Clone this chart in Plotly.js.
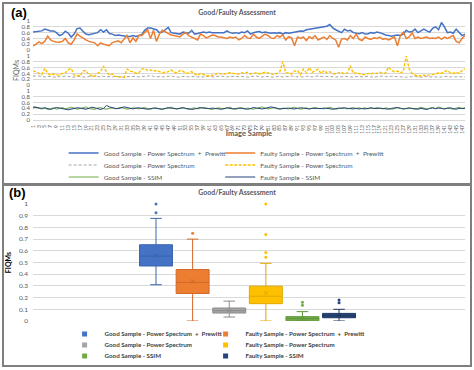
<!DOCTYPE html>
<html><head><meta charset="utf-8">
<script src="https://cdn.plot.ly/plotly-3.0.1.min.js"></script>
<style>
html,body{margin:0;padding:0;background:#fff;width:474px;height:370px;overflow:hidden;}
.panel{position:absolute;left:2px;width:470px;box-sizing:border-box;border:2px solid #7F7F7F;background:#fff;}
#pa{top:2px;height:183px;}
#pb{top:184px;height:183px;}
#ca,#cb{width:466px;height:179px;}
</style></head><body>
<div class="panel" id="pa"><div id="ca"></div></div>
<div class="panel" id="pb"><div id="cb"></div></div>
<script>
// ---------- Panel (a): per-sample FIQM values ----------
const goodPSPrewitt = [
0.62,0.63,0.64,0.66,0.72,0.68,0.66,0.66,0.60,0.50,
0.54,0.65,0.58,0.45,0.55,0.74,0.76,0.65,0.55,0.53,
0.55,0.56,0.60,0.70,0.62,0.70,0.57,0.55,0.50,0.52,
0.50,0.47,0.47,0.47,0.50,0.47,0.50,0.53,0.68,0.76,
0.76,0.72,0.70,0.60,0.62,0.70,0.78,0.60,0.58,0.55,
0.55,0.62,0.60,0.58,0.68,0.55,0.57,0.60,0.62,0.60,
0.62,0.60,0.60,0.60,0.62,0.60,0.66,0.60,0.58,0.60,
0.57,0.62,0.60,0.66,0.55,0.60,0.62,0.64,0.60,0.62,
0.60,0.58,0.60,0.58,0.60,0.55,0.60,0.58,0.60,0.62,
0.64,0.66,0.65,0.70,0.72,0.74,0.76,0.78,0.78,0.80,
0.82,0.88,0.76,0.70,0.65,0.60,0.72,0.66,0.68,0.60,
0.58,0.56,0.60,0.55,0.56,0.60,0.58,0.62,0.60,0.55,
0.52,0.50,0.48,0.50,0.52,0.50,0.55,0.68,0.62,0.64,
0.72,0.60,0.65,0.72,0.66,0.62,0.75,0.80,0.70,0.95,
0.80,0.60,0.62,0.58,0.72,0.62,0.50,0.55];
const faultyPSPrewitt = [
0.15,0.20,0.28,0.22,0.30,0.48,0.35,0.30,0.28,0.27,
0.30,0.40,0.25,0.20,0.35,0.56,0.48,0.40,0.35,0.30,
0.28,0.25,0.15,0.25,0.20,0.17,0.15,0.26,0.30,0.32,
0.25,0.38,0.50,0.25,0.42,0.30,0.50,0.50,0.60,0.70,
0.40,0.68,0.30,0.55,0.68,0.62,0.55,0.52,0.50,0.48,
0.45,0.55,0.60,0.50,0.45,0.42,0.35,0.55,0.50,0.42,
0.48,0.52,0.50,0.45,0.45,0.42,0.40,0.45,0.42,0.45,
0.35,0.40,0.50,0.42,0.40,0.55,0.45,0.40,0.47,0.55,
0.50,0.42,0.40,0.50,0.45,0.52,0.35,0.46,0.42,0.15,
0.45,0.40,0.45,0.33,0.46,0.40,0.50,0.35,0.40,0.45,
0.37,0.50,0.40,0.35,0.10,0.38,0.40,0.35,0.50,0.40,
0.55,0.37,0.33,0.45,0.40,0.37,0.42,0.40,0.45,0.37,
0.40,0.35,0.40,0.45,0.15,0.50,0.62,0.40,0.45,0.60,
0.40,0.45,0.40,0.42,0.45,0.40,0.42,0.40,0.45,0.37,
0.45,0.40,0.45,0.50,0.30,0.25,0.40,0.50];
const goodPS = [
0.30,0.32,0.31,0.29,0.28,0.30,0.29,0.28,0.27,0.30,
0.29,0.31,0.30,0.28,0.27,0.29,0.30,0.28,0.27,0.29,
0.30,0.31,0.29,0.28,0.30,0.29,0.27,0.28,0.30,0.29,
0.28,0.27,0.29,0.30,0.31,0.30,0.28,0.29,0.30,0.31,
0.32,0.30,0.29,0.30,0.28,0.29,0.30,0.31,0.29,0.28,
0.27,0.29,0.30,0.28,0.29,0.30,0.28,0.27,0.28,0.29,
0.30,0.28,0.29,0.30,0.31,0.29,0.28,0.30,0.29,0.28,
0.29,0.30,0.28,0.27,0.29,0.30,0.31,0.29,0.28,0.30,
0.29,0.28,0.27,0.29,0.30,0.28,0.29,0.30,0.31,0.29,
0.28,0.27,0.28,0.30,0.29,0.28,0.30,0.31,0.29,0.28,
0.29,0.30,0.28,0.27,0.29,0.28,0.30,0.29,0.28,0.27,
0.29,0.30,0.28,0.29,0.30,0.28,0.27,0.29,0.30,0.31,
0.29,0.28,0.30,0.29,0.28,0.27,0.26,0.27,0.28,0.29,
0.30,0.28,0.27,0.29,0.30,0.28,0.29,0.28,0.27,0.28,
0.29,0.30,0.28,0.27,0.28,0.29,0.28,0.27];
const faultyPS = [
0.49,0.45,0.42,0.36,0.57,0.40,0.34,0.38,0.35,0.34,
0.40,0.42,0.52,0.57,0.34,0.32,0.31,0.48,0.50,0.35,
0.32,0.30,0.40,0.46,0.65,0.45,0.34,0.38,0.30,0.28,
0.27,0.26,0.55,0.48,0.46,0.40,0.42,0.55,0.57,0.50,
0.52,0.48,0.50,0.46,0.42,0.44,0.46,0.52,0.44,0.42,
0.50,0.48,0.40,0.42,0.46,0.38,0.34,0.40,0.36,0.32,
0.31,0.34,0.36,0.42,0.38,0.38,0.40,0.42,0.40,0.38,
0.38,0.42,0.40,0.44,0.38,0.40,0.42,0.38,0.40,0.44,
0.42,0.38,0.36,0.40,0.46,0.80,0.42,0.42,0.38,0.48,
0.50,0.36,0.55,0.42,0.60,0.44,0.50,0.55,0.40,0.50,
0.42,0.46,0.40,0.38,0.42,0.44,0.38,0.42,0.66,0.40,
0.42,0.38,0.36,0.36,0.40,0.38,0.42,0.40,0.44,0.40,
0.42,0.62,0.50,0.46,0.48,0.42,0.46,1.00,0.55,0.40,
0.35,0.30,0.32,0.34,0.33,0.34,0.36,0.38,0.42,0.40,
0.46,0.50,0.42,0.40,0.44,0.40,0.50,0.56];
const goodSSIM = [
0.42,0.45,0.40,0.38,0.41,0.36,0.39,0.42,0.37,0.40,
0.43,0.38,0.40,0.44,0.41,0.37,0.39,0.42,0.45,0.40,
0.38,0.36,0.41,0.43,0.39,0.37,0.40,0.42,0.38,0.41,
0.44,0.40,0.37,0.39,0.42,0.40,0.38,0.41,0.43,0.39,
0.37,0.40,0.42,0.38,0.36,0.39,0.41,0.44,0.40,0.38,
0.41,0.43,0.39,0.37,0.40,0.42,0.38,0.40,0.43,0.41,
0.38,0.36,0.39,0.42,0.40,0.38,0.41,0.44,0.39,0.37,
0.40,0.43,0.38,0.41,0.39,0.37,0.40,0.42,0.45,0.41,
0.38,0.40,0.43,0.39,0.37,0.41,0.40,0.38,0.42,0.44,
0.40,0.37,0.39,0.42,0.38,0.41,0.43,0.39,0.40,0.38,
0.41,0.44,0.40,0.37,0.39,0.42,0.40,0.38,0.41,0.43,
0.39,0.37,0.40,0.42,0.38,0.41,0.39,0.43,0.40,0.38,
0.42,0.40,0.37,0.39,0.43,0.41,0.38,0.40,0.42,0.39,
0.37,0.40,0.44,0.41,0.38,0.40,0.42,0.39,0.45,0.41,
0.38,0.42,0.40,0.37,0.41,0.44,0.39,0.42];
const faultySSIM = [
0.45,0.43,0.41,0.40,0.42,0.38,0.36,0.40,0.43,0.41,
0.40,0.37,0.35,0.38,0.40,0.42,0.41,0.39,0.37,0.40,
0.44,0.42,0.38,0.36,0.40,0.50,0.45,0.42,0.40,0.39,
0.41,0.45,0.43,0.40,0.38,0.41,0.42,0.40,0.38,0.37,
0.39,0.41,0.40,0.38,0.37,0.40,0.42,0.41,0.39,0.38,
0.40,0.42,0.40,0.37,0.36,0.38,0.40,0.43,0.41,0.40,
0.39,0.41,0.40,0.38,0.37,0.39,0.42,0.40,0.38,0.39,
0.41,0.40,0.38,0.37,0.39,0.43,0.41,0.40,0.38,0.40,
0.42,0.45,0.43,0.40,0.38,0.39,0.40,0.41,0.39,0.38,
0.40,0.42,0.41,0.39,0.38,0.40,0.41,0.40,0.39,0.41,
0.40,0.38,0.37,0.39,0.41,0.40,0.42,0.40,0.39,0.38,
0.40,0.41,0.39,0.38,0.40,0.42,0.40,0.39,0.41,0.40,
0.38,0.37,0.40,0.42,0.43,0.40,0.38,0.39,0.41,0.40,
0.39,0.37,0.40,0.38,0.36,0.40,0.42,0.39,0.41,0.40,
0.38,0.40,0.42,0.39,0.37,0.40,0.41,0.40];

const sampleLabels = goodPSPrewitt.map((_, i) => String(i + 1));
const sampleTickLabels = sampleLabels.filter((_, i) => i % 2 === 0);
const groupTickVals = [0, 0.2, 0.4, 0.6, 0.8, 1];
const groupTickText = ['0', '0.2', '0.4', '0.6', '0.8', '1'];

// ---------- Panel (b): box statistics ----------
const boxNames = [
  'Good Sample - Power Spectrum \u00A0+\u00A0 Prewitt',
  'Faulty Sample - Power Spectrum \u00A0+\u00A0 Prewitt',
  'Good Sample - Power Spectrum',
  'Faulty Sample - Power Spectrum',
  'Good Sample - SSIM',
  'Faulty Sample - SSIM'];
const boxQ1     = [0.47, 0.235, 0.068, 0.148, 0.002, 0.028];
const boxMedian = [0.555, 0.33, 0.088, 0.212, 0.02, 0.045];
const boxQ3     = [0.652, 0.44, 0.111, 0.298, 0.037, 0.065];
const boxLow    = [0.31, 0.0, 0.034, 0.0, 0.0, 0.0];
const boxHigh   = [0.877, 0.70, 0.17, 0.493, 0.08, 0.10];
const boxMean   = [0.56, 0.34, 0.09, 0.24, 0.025, 0.05];
const boxOutliers = [
  [1.0, 0.925],
  [0.75],
  [],
  [1.0, 0.74, 0.585, 0.545],
  [0.16, 0.135],
  [0.18, 0.157]];
const yTickValsB = [0, 0.1, 0.2, 0.3, 0.4, 0.5, 0.6, 0.7, 0.8, 0.9, 1];
const yTickTextB = ['0', '0.1', '0.2', '0.3', '0.4', '0.5', '0.6', '0.7', '0.8', '0.9', '1'];

// ---------- styles ----------
const FONT = 'Lato, "Open Sans", sans-serif';
const GRID = '#D9D9D9';
const TXT = '#595959';
const colors = ['#4472C4', '#ED7D31', '#A5A5A5', '#FFC000', '#70AD47', '#264478'];
const edgeColors = ['#3B64AD', '#D0692A', '#8C8C8C', '#E0A800', '#5E963B', '#1E3760'];
const legendIds = ['legend', 'legend2', 'legend3', 'legend4', 'legend5', 'legend6'];
const config = {staticPlot: true, displayModeBar: false};

function legendItem(x, y, font) {
  return {orientation: 'h', xref: 'container', yref: 'container', x: x, y: y,
    xanchor: 'left', yanchor: 'middle', itemwidth: 30, font: font,
    bgcolor: 'rgba(0,0,0,0)', borderwidth: 0};
}
function legendGrid(layout, colX, rowY, font) {
  legendIds.forEach((id, k) => { layout[id] = legendItem(colX[k % 2], rowY[Math.floor(k / 2)], font); });
}

// ---------- Panel (a) ----------
const lineData = [goodPSPrewitt, faultyPSPrewitt, goodPS, faultyPS, goodSSIM, faultySSIM];
const lineAxes = ['y', 'y', 'y2', 'y2', 'y3', 'y3'];
const lineDash = ['solid', 'solid', '3px,2px', '3px,1.5px', 'solid', 'solid'];
const lineWidth = [1.5, 1.5, 1, 1.4, 1, 1];
const tracesA = lineData.map((d, k) => ({
  type: 'scatter', mode: 'lines', x: sampleLabels, y: d, yaxis: lineAxes[k],
  name: boxNames[k], legend: legendIds[k],
  line: {color: colors[k], width: lineWidth[k], dash: lineDash[k]}
}));

function groupAxis(domain, extra) {
  return Object.assign({
    domain: domain, range: [0, 1], tickmode: 'array', tickvals: groupTickVals, ticktext: groupTickText,
    showgrid: true, gridcolor: GRID, gridwidth: 1, zeroline: false, showline: false, ticks: '',
    tickfont: {family: FONT, size: 6, color: TXT}, anchor: 'x', ticklabelstandoff: 2
  }, extra || {});
}
const legFontA = {family: FONT, size: 6.5, color: TXT};
const layoutA = {
  width: 466, height: 179, paper_bgcolor: '#fff', plot_bgcolor: '#fff',
  margin: {l: 29, r: 5, t: 17, b: 63, autoexpand: false},
  font: {family: FONT, color: TXT},
  title: {text: 'Good/Faulty Assessment', font: {family: FONT, size: 7, color: TXT, weight: 'bold'},
          x: 0.5, xref: 'container', xanchor: 'center', y: 0.955, yref: 'container', yanchor: 'middle'},
  xaxis: {type: 'category', anchor: 'y3', tickmode: 'array', tickvals: sampleTickLabels, ticktext: sampleTickLabels,
          tickangle: -90, tickfont: {family: FONT, size: 5, color: TXT}, showgrid: false, zeroline: false,
          showline: true, linecolor: GRID, linewidth: 1, ticks: '', fixedrange: true, ticklabelstandoff: 2,
          automargin: true,
          title: {text: 'Image Sample', font: {family: FONT, size: 7.5, color: TXT, weight: 'bold'}, standoff: 6}},
  yaxis: groupAxis([0.7059, 1]),
  yaxis2: groupAxis([0.3529, 0.6471], {automargin: true,
          title: {text: 'FIQMs', font: {family: FONT, size: 7, color: TXT}, standoff: 1}}),
  yaxis3: groupAxis([0, 0.2941]),
  showlegend: true,
  annotations: [{text: '(a)', xref: 'paper', yref: 'paper', x: -0.033, y: 1.085, xanchor: 'center', yanchor: 'middle',
                 showarrow: false, font: {family: 'Liberation Sans, Arial, sans-serif', size: 13, color: '#000', weight: 'bold'}}]
};
legendGrid(layoutA, [0.1280, 0.4640], [0.1676, 0.1006, 0.0335], legFontA);
Plotly.newPlot('ca', tracesA, layoutA, config);

// ---------- Panel (b) ----------
const tracesB = [];
boxNames.forEach((nm, k) => {
  tracesB.push({type: 'box', x: [nm], q1: [boxQ1[k]], median: [boxMedian[k]], q3: [boxQ3[k]],
    lowerfence: [boxLow[k]], upperfence: [boxHigh[k]], boxpoints: false, width: 0.9, whiskerwidth: 0.35,
    fillcolor: colors[k], line: {color: edgeColors[k], width: 1}, showlegend: false, name: nm});
});
boxNames.forEach((nm, k) => {
  tracesB.push({type: 'scatter', mode: 'markers', x: boxOutliers[k].map(() => nm), y: boxOutliers[k],
    marker: {color: colors[k], size: 3}, cliponaxis: false, showlegend: false, name: nm});
  tracesB.push({type: 'scatter', mode: 'markers', x: [nm], y: [boxMean[k]],
    marker: {symbol: 'x-thin-open', color: edgeColors[k], size: 4, line: {width: 1, color: edgeColors[k]}},
    cliponaxis: false, showlegend: false, name: nm});
});
boxNames.forEach((nm, k) => {
  tracesB.push({type: 'scatter', mode: 'markers', x: [null], y: [null], name: nm, legend: legendIds[k],
    marker: {symbol: 'square', size: 5, color: colors[k]}, showlegend: true});
});
const legFontB = {family: FONT, size: 6.2, color: '#404040', weight: 'bold'};
const layoutB = {
  width: 466, height: 179, paper_bgcolor: '#fff', plot_bgcolor: '#fff',
  margin: {l: 29, r: 5, t: 18, b: 44, autoexpand: false},
  font: {family: FONT, color: TXT},
  title: {text: 'Good/Faulty Assessment', font: {family: FONT, size: 7, color: TXT, weight: 'bold'},
          x: 0.5, xref: 'container', xanchor: 'center', y: 0.961, yref: 'container', yanchor: 'middle'},
  xaxis: {type: 'category', categoryorder: 'array', categoryarray: boxNames, range: [-3.36, 8.44],
          showticklabels: false, showgrid: false, zeroline: false, showline: false, ticks: '', fixedrange: true},
  yaxis: {range: [0, 1], tickmode: 'array', tickvals: yTickValsB, ticktext: yTickTextB,
          showgrid: true, gridcolor: GRID, gridwidth: 1, zeroline: false, showline: false, ticks: '',
          tickfont: {family: FONT, size: 6.5, color: TXT}, ticklabelstandoff: 4, fixedrange: true,
          title: {text: 'FIQMs', font: {family: FONT, size: 7, color: '#000', weight: 'bold'}}},
  showlegend: true,
  annotations: [{text: '(b)', xref: 'paper', yref: 'paper', x: -0.035, y: 1.10, xanchor: 'center', yanchor: 'middle',
                 showarrow: false, font: {family: 'Liberation Sans, Arial, sans-serif', size: 13, color: '#000', weight: 'bold'}}]
};
legendGrid(layoutB, [0.1300, 0.4326], [0.173, 0.112, 0.050], legFontB);
Plotly.newPlot('cb', tracesB, layoutB, config);
</script>
</body></html>
